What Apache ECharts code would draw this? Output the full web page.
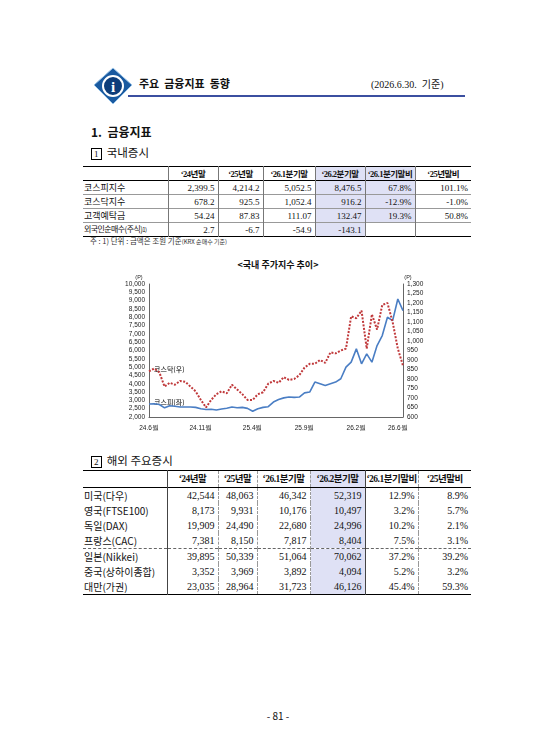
<!DOCTYPE html>
<html><head><meta charset="utf-8">
<script src="https://cdn.jsdelivr.net/npm/echarts@6/dist/echarts.min.js"></script>
<style>
body{margin:0;width:556px;height:754px;background:#fff;position:relative;font-family:"Noto Sans CJK KR",sans-serif;color:#111;overflow:hidden}
.abs{position:absolute}
table{border-collapse:collapse;table-layout:fixed}
td{padding:0 3px;white-space:nowrap;overflow:hidden;font-family:"Liberation Serif","Noto Sans CJK KR",serif}
td.l{text-align:left;font-family:"Noto Sans CJK KR",sans-serif;padding-left:1px}
td.r{text-align:right}
th{font-weight:bold;font-family:"Liberation Serif","Noto Sans CJK KR",serif;padding:0;white-space:nowrap;letter-spacing:-0.5px}
.sh{background:#dfe1f5}
#t1{left:83px;top:166px;width:388px}
#t1 td,#t1 th{height:13px;font-size:9px;line-height:12px;padding-top:0;padding-bottom:0}
#t1 th{font-size:8.5px}
#t1 td+td,#t1 th+th{border-left:1px solid #777}
#t1 tr{border-bottom:1px solid #999}
#t1 tr:first-child{border-top:1.5px solid #000;border-bottom:1px solid #000}
#t1 tr:last-child{border-bottom:1px solid #000}
#t2{left:83px;top:470px;width:388px}
#t2 td,#t2 th{height:15px;line-height:14px;font-size:10px;padding-top:0;padding-bottom:0}
#t2 th{height:16px;font-size:9.5px}
#t2 td+td,#t2 th+th{border-left:1px dashed #999}
#t2 td:nth-child(2),#t2 th:nth-child(2),#t2 td:nth-child(6),#t2 th:nth-child(6){border-left:1px solid #444}
#t2 tr:first-child{border-top:1.5px solid #000;border-bottom:1px solid #000}
#t2 tr.dash{border-bottom:1px dashed #666}
#t2 tr:last-child{border-bottom:1.5px solid #000}
</style></head><body>
<svg class="abs" style="left:93px;top:67px" width="40" height="40" viewBox="0 0 40 40">
<polygon points="20,1 39,18 20,37 1,18" fill="#1a5aa0" stroke="#9bc4e8" stroke-width="1"/>
<circle cx="20" cy="19" r="10" fill="#0d3d7a" stroke="#fff" stroke-width="2"/>
<text x="20" y="24.5" font-size="15" font-weight="bold" text-anchor="middle" fill="#fff" font-family="Liberation Serif">i</text>
</svg>
<div class="abs" style="left:139px;top:75px;font-size:11px;font-weight:bold">주요 &nbsp;금융지표 &nbsp;동향</div>
<div class="abs" style="left:371px;top:76px;font-size:10px;font-family:'Liberation Serif','Noto Sans CJK KR'">(2026.6.30. &nbsp;기준)</div>
<div class="abs" style="left:128px;top:95px;width:337px;height:2px;background:#3b4fa0"></div>
<div class="abs" style="left:91px;top:123px;font-size:12px;font-weight:bold">1. &nbsp;금융지표</div>
<div class="abs" style="left:91px;top:144px;font-size:11.5px"><span style="border:1px solid #000;font-size:9px;padding:0 2px;font-family:'Liberation Serif'">1</span>&nbsp; 국내증시</div>
<table id="t1" class="abs">
<colgroup><col style="width:85px"><col style="width:50px"><col style="width:45px"><col style="width:52px"><col style="width:50px"><col style="width:50px"><col style="width:56px"></colgroup>
<tr><th></th><th>‘24년말</th><th>‘25년말</th><th>‘26.1분기말</th><th class="sh">‘26.2분기말</th><th class="sh">‘26.1분기말비</th><th>‘25년말비</th></tr>
<tr><td class="l">코스피지수</td><td class="r">2,399.5</td><td class="r">4,214.2</td><td class="r">5,052.5</td><td class="r sh">8,476.5</td><td class="r sh">67.8%</td><td class="r">101.1%</td></tr>
<tr><td class="l">코스닥지수</td><td class="r">678.2</td><td class="r">925.5</td><td class="r">1,052.4</td><td class="r sh">916.2</td><td class="r sh">-12.9%</td><td class="r">-1.0%</td></tr>
<tr><td class="l">고객예탁금</td><td class="r">54.24</td><td class="r">87.83</td><td class="r">111.07</td><td class="r sh">132.47</td><td class="r sh">19.3%</td><td class="r">50.8%</td></tr>
<tr><td class="l" style="font-size:8px;letter-spacing:-0.6px">외국인순매수(주식)<span style="font-size:6px">1)</span></td><td class="r">2.7</td><td class="r">-6.7</td><td class="r">-54.9</td><td class="r sh">-143.1</td><td></td><td></td></tr>
</table>
<div class="abs" style="left:90px;top:235px;font-size:7.5px;color:#333">주 : 1) 단위 : 금액은 조원 기준<span style="font-size:6px">(KRX 순매수 기준)</span></div>
<div class="abs" style="left:0;width:556px;top:258px;text-align:center;font-size:9px;font-weight:bold">&lt;국내 주가지수 추이&gt;</div>
<div id="c" class="abs" style="left:100px;top:268px;width:360px;height:172px"></div>
<div class="abs" style="left:91px;top:452px;font-size:11.5px"><span style="border:1px solid #000;font-size:9px;padding:0 2px;font-family:'Liberation Serif'">2</span>&nbsp; 해외 주요증시</div>
<table id="t2" class="abs">
<colgroup><col style="width:84px"><col style="width:51px"><col style="width:39px"><col style="width:53px"><col style="width:55px"><col style="width:53px"><col style="width:53px"></colgroup>
<tr><th></th><th>‘24년말</th><th>‘25년말</th><th>‘26.1분기말</th><th class="sh">‘26.2분기말</th><th>‘26.1분기말비</th><th>‘25년말비</th></tr>
<tr><td class="l">미국(다우)</td><td class="r">42,544</td><td class="r">48,063</td><td class="r">46,342</td><td class="r sh">52,319</td><td class="r">12.9%</td><td class="r">8.9%</td></tr>
<tr><td class="l">영국(FTSE100)</td><td class="r">8,173</td><td class="r">9,931</td><td class="r">10,176</td><td class="r sh">10,497</td><td class="r">3.2%</td><td class="r">5.7%</td></tr>
<tr><td class="l">독일(DAX)</td><td class="r">19,909</td><td class="r">24,490</td><td class="r">22,680</td><td class="r sh">24,996</td><td class="r">10.2%</td><td class="r">2.1%</td></tr>
<tr class="dash"><td class="l">프랑스(CAC)</td><td class="r">7,381</td><td class="r">8,150</td><td class="r">7,817</td><td class="r sh">8,404</td><td class="r">7.5%</td><td class="r">3.1%</td></tr>
<tr><td class="l">일본(Nikkei)</td><td class="r">39,895</td><td class="r">50,339</td><td class="r">51,064</td><td class="r sh">70,062</td><td class="r">37.2%</td><td class="r">39.2%</td></tr>
<tr><td class="l">중국(상하이종합)</td><td class="r">3,352</td><td class="r">3,969</td><td class="r">3,892</td><td class="r sh">4,094</td><td class="r">5.2%</td><td class="r">3.2%</td></tr>
<tr><td class="l">대만(가권)</td><td class="r">23,035</td><td class="r">28,964</td><td class="r">31,723</td><td class="r sh">46,126</td><td class="r">45.4%</td><td class="r">59.3%</td></tr>
</table>
<div class="abs" style="left:0;width:556px;top:708px;text-align:center;font-size:10px">- 81 -</div>
<script>
const periods = ['24.6월','','','','','','','','','','24.11월','','','','','','','','','','25.4월','','','','','','','','','','25.9월','','','','','','','','','','26.2월','','','','','','','','26.6월',''];
const kospi = [2780,2800,2750,2550,2680,2650,2600,2600,2600,2580,2500,2450,2470,2420,2480,2530,2600,2560,2580,2520,2350,2500,2580,2620,2900,3050,3150,3200,3180,3200,3450,3500,4100,4000,3900,4000,4100,4300,5000,5300,6100,5200,5800,5300,6300,6900,8000,7800,9100,8400];
const kosdaq = [840,855,835,760,780,770,790,785,760,735,690,650,690,720,735,725,770,745,720,690,690,720,730,775,790,780,810,795,800,820,860,880,880,900,885,940,935,950,960,1130,1120,1160,960,1140,1060,1190,1200,1100,960,870];
const c = echarts.init(document.getElementById('c'));
const ax = {fontSize:6.5,color:'#222',fontFamily:'Liberation Sans'};
c.setOption({
 animation:false,
 grid:{left:49,right:57,top:16,bottom:23},
 xAxis:{type:'category',data:periods,boundaryGap:false,
  axisLine:{lineStyle:{color:'#666'}},axisTick:{show:false},
  axisLabel:Object.assign({interval:0,margin:8},ax)},
 yAxis:[
  {type:'value',min:2000,max:10000,interval:500,name:'(P)',nameGap:4,nameTextStyle:{fontSize:5.5,color:'#222',padding:[0,0,0,-20]},splitLine:{show:false},axisLine:{show:true,lineStyle:{color:'#666'}},axisTick:{show:false},
   axisLabel:Object.assign({formatter:v=>v.toLocaleString('en-US'),margin:4},ax)},
  {type:'value',min:600,max:1300,interval:50,name:'(P)',nameGap:4,nameTextStyle:{fontSize:5.5,color:'#222',padding:[0,0,0,10]},splitLine:{show:false},axisLine:{show:true,lineStyle:{color:'#666'}},axisTick:{show:false},
   axisLabel:Object.assign({formatter:v=>v.toLocaleString('en-US'),margin:4,align:'left'},ax)}
 ],
 series:[
  {name:'코스피(좌)',type:'line',yAxisIndex:0,data:kospi,symbol:'none',lineStyle:{color:'#4a7ec4',width:1.6}},
  {name:'코스닥(우)',type:'line',yAxisIndex:1,data:kosdaq,symbol:'none',lineStyle:{color:'#c0393b',width:2,type:[2,1.5]}}
 ],
 graphic:[
  {type:'text',left:54,top:98,style:{text:'코스닥(우)',fontSize:7,fill:'#000',fontFamily:'Noto Sans CJK KR'}},
  {type:'text',left:54,top:131,style:{text:'코스피(좌)',fontSize:7,fill:'#000',fontFamily:'Noto Sans CJK KR'}}
 ]
});
</script>
</body></html>
